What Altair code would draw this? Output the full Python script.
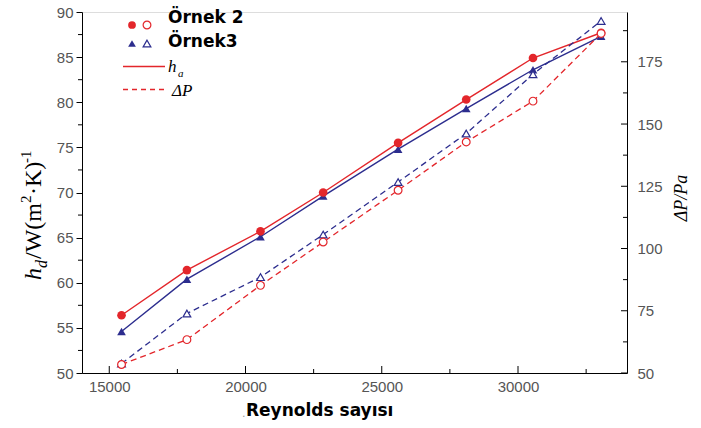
import altair as alt
import pandas as pd

# Reynolds numbers of the measured points
reynolds = [15450, 17850, 20550, 22850, 25600, 28100, 30550, 33050]
# heat transfer coefficient h, W/(m2.K)
h_ornek2 = [56.4, 61.4, 65.7, 70.0, 75.5, 80.3, 84.9, 87.7]
h_ornek3 = [54.6, 60.4, 65.1, 69.6, 74.8, 79.3, 83.6, 87.3]
# pressure drop, Pa
dp_ornek2 = [53.4, 63.4, 85.2, 102.6, 123.4, 142.8, 159.2, 186.4]
dp_ornek3 = [53.8, 73.9, 88.5, 105.6, 126.7, 146.2, 170.0, 191.4]
samples = ["Örnek 2", "Örnek3"]

# axis tick values
x_major = [15000, 20000, 25000, 30000]
x_minor = [17500, 22500, 27500, 32500]
h_major = [50, 55, 60, 65, 70, 75, 80, 85, 90]
h_minor = [52.5, 57.5, 62.5, 67.5, 72.5, 77.5, 82.5, 87.5]
dp_major = [50, 75, 100, 125, 150, 175]
dp_minor = [62.5, 87.5, 112.5, 137.5, 162.5, 187.5]

RED = "#e3262b"
BLUE = "#2c2d8e"
BLUE_DASH = "#3e4784"
GRAY = "#555555"
W, H = 545, 361

n = len(reynolds)
df = pd.DataFrame({
    "Re": reynolds + reynolds,
    "sample": [samples[1]] * n + [samples[0]] * n,
    "h": h_ornek3 + h_ornek2,
    "dp": dp_ornek3 + dp_ornek2,
})

x_scale = alt.Scale(domain=[14000, 34000], nice=False, zero=False)
h_scale = alt.Scale(domain=[50, 90], nice=False, zero=False)
dp_scale = alt.Scale(domain=[50, 195], nice=False, zero=False)

lab = dict(labelFont="Liberation Sans", labelFontSize=15, labelColor=GRAY,
           domainColor="black", domainWidth=1, grid=False, title=None)
x_axis = alt.Axis(values=x_major, format="d", ticks=False, labelPadding=6, **lab)
h_axis = alt.Axis(values=h_major, tickSize=6, tickColor="black", labelPadding=3, **lab)
dp_axis = alt.Axis(values=dp_major, orient="right", ticks=False, labelPadding=10,
                   labelAlign="left", **lab)

X = alt.X("Re:Q", scale=x_scale, axis=x_axis)
Yh = alt.Y("h:Q", scale=h_scale, axis=h_axis)
Ydp = alt.Y("dp:Q", scale=dp_scale, axis=dp_axis)
col_solid = alt.Color("sample:N", scale=alt.Scale(domain=samples, range=[RED, BLUE]), legend=None)
col_dash = alt.Color("sample:N", scale=alt.Scale(domain=samples, range=[RED, BLUE_DASH]), legend=None)
stroke_open = alt.Stroke("sample:N", scale=alt.Scale(domain=samples, range=[RED, BLUE]), legend=None)
shape = alt.Shape("sample:N", scale=alt.Scale(domain=samples, range=["circle", "triangle-up"]), legend=None)

base = alt.Chart(df)

# left axis: heat transfer coefficient
h_lines = base.mark_line(strokeWidth=1.4).encode(x=X, y=Yh, color=col_solid, detail="sample:N")
h_points = base.mark_point(filled=True, size=75, opacity=1).encode(x=X, y=Yh, color=col_solid, shape=shape)
h_minor_ticks = alt.Chart(pd.DataFrame({"h": h_minor})).mark_rule(color="black").encode(
    y=Yh, x=alt.value(-4), x2=alt.value(0))
left = alt.layer(h_lines, h_points, h_minor_ticks)

# right axis: pressure drop
dp_lines = base.mark_line(strokeWidth=1.3, strokeDash=[6, 4]).encode(
    x=X, y=Ydp, color=col_dash, detail="sample:N")
dp_points = base.mark_point(filled=True, size=60, opacity=1, strokeWidth=1.2).encode(
    x=X, y=Ydp, stroke=stroke_open, fill=alt.value("white"), shape=shape)
dp_major_ticks = alt.Chart(pd.DataFrame({"dp": dp_major})).mark_rule(color="black").encode(
    y=Ydp, x=alt.value(W - 6), x2=alt.value(W))
dp_minor_ticks = alt.Chart(pd.DataFrame({"dp": dp_minor})).mark_rule(color="black").encode(
    y=Ydp, x=alt.value(W - 4), x2=alt.value(W))
right = alt.layer(dp_lines, dp_points, dp_major_ticks, dp_minor_ticks)

# inward ticks on the Reynolds axis
x_major_ticks = alt.Chart(pd.DataFrame({"Re": x_major})).mark_rule(color="black").encode(
    x=X, y=alt.value(H - 7), y2=alt.value(H))
x_minor_ticks = alt.Chart(pd.DataFrame({"Re": x_minor})).mark_rule(color="black").encode(
    x=X, y=alt.value(H - 4), y2=alt.value(H))

one = pd.DataFrame({"k": [0]})


def txt(text, x, y, size, font="Liberation Serif", style="normal", weight="normal",
        angle=0, align="left", color="black"):
    return alt.Chart(one).mark_text(
        text=text, font=font, fontSize=size, fontStyle=style, fontWeight=weight,
        angle=angle, align=align, baseline="alphabetic", color=color,
    ).encode(x=alt.value(x), y=alt.value(y))


def marker(x, y, shp, color, open_=False):
    m = alt.Chart(one).mark_point(
        shape=shp, filled=True, size=60, opacity=1,
        fill="white" if open_ else color, stroke=color, strokeWidth=1.2 if open_ else 0,
    )
    return m.encode(x=alt.value(x), y=alt.value(y))


# legend
legend = [
    marker(50, 13, "circle", RED), marker(65, 13, "circle", RED, True),
    txt(samples[0], 86, 11, 17, font="DejaVu Sans", weight="bold"),
    marker(50, 31.5, "triangle-up", BLUE), marker(65, 31.5, "triangle-up", BLUE, True),
    txt(samples[1], 86, 35, 17, font="DejaVu Sans", weight="bold"),
    alt.Chart(one).mark_rule(color=RED, strokeWidth=1.3).encode(
        x=alt.value(41), x2=alt.value(83), y=alt.value(54.5)),
    txt("h", 86, 60, 17, style="italic"),
    txt("a", 96, 65, 11, style="italic"),
    alt.Chart(one).mark_rule(color=RED, strokeWidth=1.3, strokeDash=[5, 4]).encode(
        x=alt.value(41), x2=alt.value(83), y=alt.value(77.5)),
    txt("ΔP", 90, 84, 17, style="italic"),
]

# axis titles
bx = -41
titles = [
    txt("h", bx, 268, 24, style="italic", angle=270),
    txt("d", bx + 6, 256, 16, style="italic", angle=270),
    txt("/W(m", bx, 247, 24, angle=270),
    txt("2", bx - 10, 191, 15, angle=270),
    txt("·K)", bx, 183, 24, angle=270),
    txt("-1", bx - 10, 151, 15, angle=270),
    txt("ΔP/Pa", 605, 186, 18, style="italic", angle=270, align="center"),
    txt("Reynolds sayısı", 164, 404, 17, font="DejaVu Sans", weight="bold"),
    txt(".", 160, 405, 11, font="DejaVu Sans", color="#999999"),
]

chart = alt.layer(
    left, right, x_major_ticks, x_minor_ticks, *legend, *titles
).resolve_scale(y="independent").properties(
    width=W, height=H,
    autosize=alt.AutoSizeParams(type="none"),
    padding={"left": 82, "top": 12, "right": 701 - 82 - W, "bottom": 428 - 12 - H},
).configure_view(stroke=None).configure(background="white")

chart.save("out.html", embed_options={"renderer": "svg", "actions": False})
